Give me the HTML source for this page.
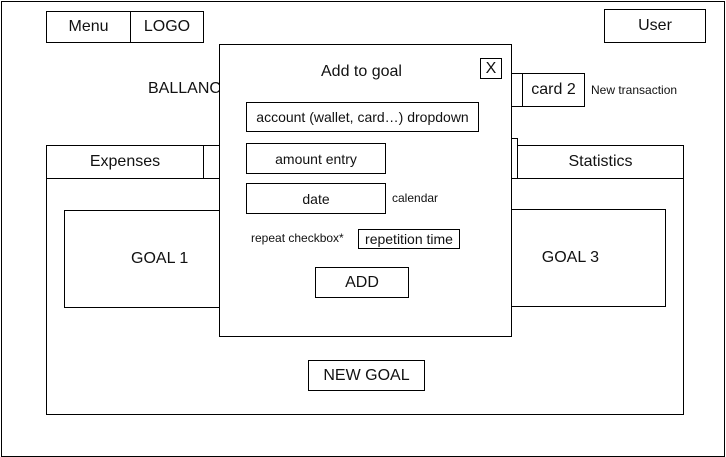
<!DOCTYPE html>
<html><head><style>
body{margin:0;width:726px;height:457px;background:#fff;position:relative;overflow:hidden;font-family:"Liberation Sans",sans-serif;color:#111}
.b{position:absolute;border:1px solid #000;background:#fff;box-sizing:border-box;display:flex;align-items:center;justify-content:center;font-size:16px}
.t{position:absolute;font-size:16px;white-space:nowrap}
.s{position:absolute;font-size:12px;white-space:nowrap}
</style></head><body>
<div class="b" style="left:1px;top:1px;width:724px;height:456px"></div>
<div class="b" style="left:46px;top:11px;width:85px;height:32px">Menu</div>
<div class="b" style="left:130px;top:11px;width:74px;height:32px">LOGO</div>
<div class="b" style="left:604px;top:9px;width:102px;height:34px">User</div>
<div class="t" style="left:148px;top:80px">BALLANCE</div>
<div class="b" style="left:470px;top:73px;width:53px;height:34px"></div>
<div class="b" style="left:522px;top:73px;width:63px;height:34px">card 2</div>
<div class="s" style="left:591px;top:83px">New transaction</div>
<div class="b" style="left:46px;top:145px;width:638px;height:270px"></div>
<div class="b" style="left:46px;top:145px;width:158px;height:34px">Expenses</div>
<div class="b" style="left:203px;top:145px;width:100px;height:34px"></div>
<div class="b" style="left:455px;top:138px;width:63px;height:41px"></div>
<div class="b" style="left:517px;top:145px;width:167px;height:34px">Statistics</div>
<div class="b" style="left:64px;top:210px;width:190px;height:98px;justify-content:flex-start;padding-left:66px">GOAL 1</div>
<div class="b" style="left:475px;top:209px;width:191px;height:98px;justify-content:flex-end;padding-right:66px">GOAL 3</div>
<div class="b" style="left:308px;top:360px;width:117px;height:31px">NEW GOAL</div>
<div class="b" style="left:219px;top:44px;width:293px;height:293px"></div>
<div class="t" style="left:321px;top:63px">Add to goal</div>
<div class="b" style="left:480px;top:58px;width:22px;height:21px">X</div>
<div class="b" style="left:246px;top:102px;width:233px;height:30px;font-size:14px">account (wallet, card…) dropdown</div>
<div class="b" style="left:246px;top:143px;width:140px;height:31px;font-size:14px">amount entry</div>
<div class="b" style="left:246px;top:183px;width:140px;height:31px;font-size:14px">date</div>
<div class="s" style="left:392px;top:191px">calendar</div>
<div class="s" style="left:251px;top:231px">repeat checkbox*</div>
<div class="b" style="left:358px;top:229px;width:102px;height:20px;font-size:14px">repetition time</div>
<div class="b" style="left:315px;top:267px;width:94px;height:31px">ADD</div>
</body></html>
